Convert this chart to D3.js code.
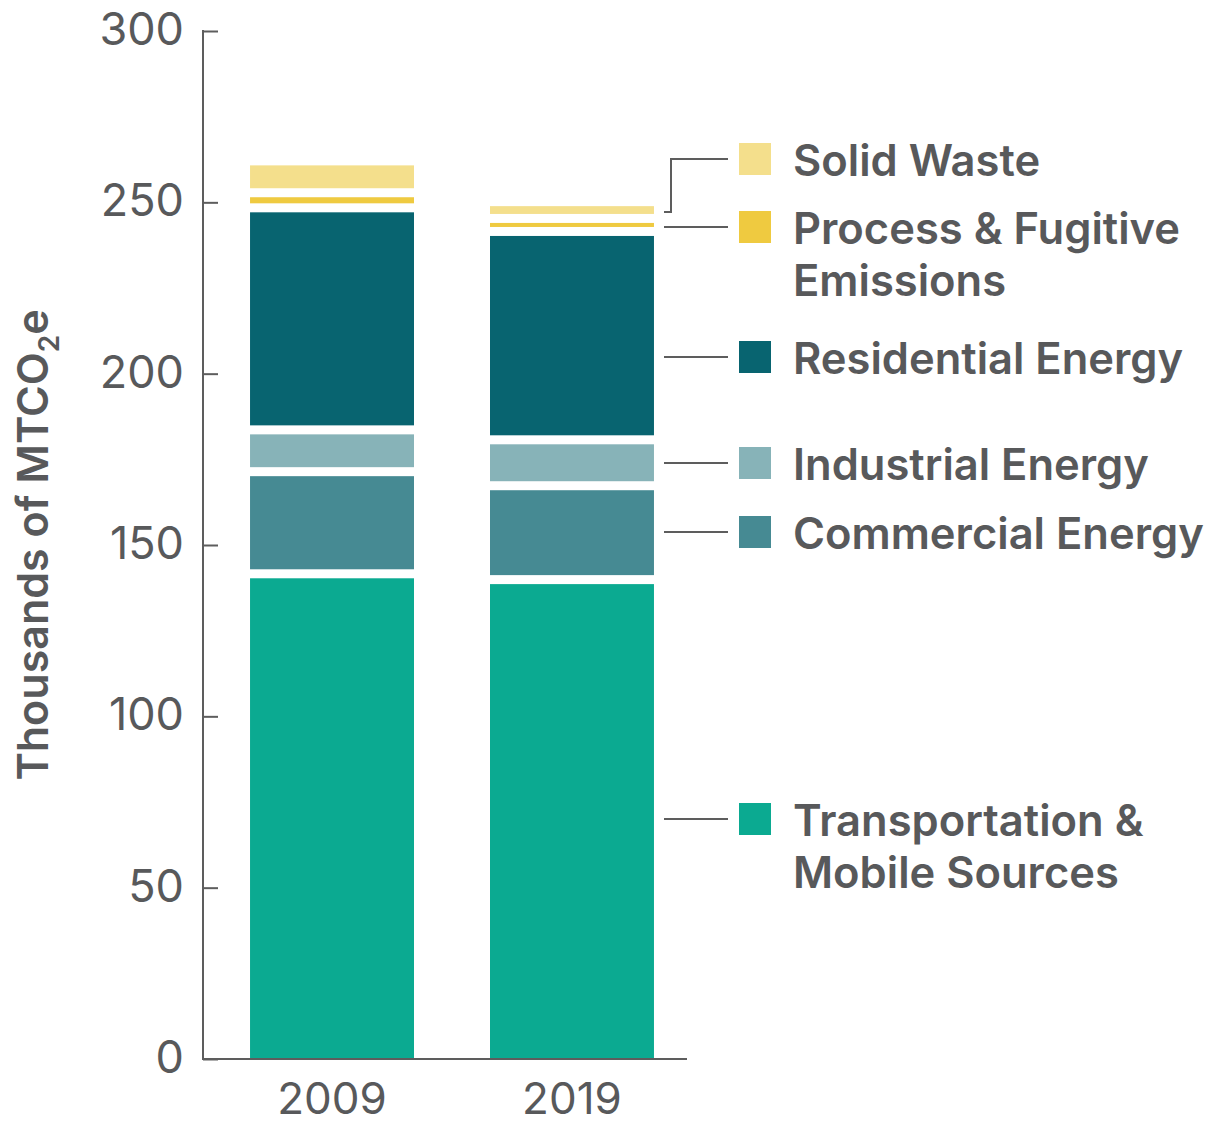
<!DOCTYPE html>
<html>
<head>
<meta charset="utf-8">
<script src="https://cdn.jsdelivr.net/npm/d3@7"></script>
<style>
  body { margin: 0; background: #fff; }
  text { font-family: Inter, "Noto Sans", sans-serif; fill: #58595b; }
</style>
</head>
<body>
<div id="chart"></div>
<script>
var years = ['2009', '2019'];
var categories = ['Transportation & Mobile Sources', 'Commercial Energy', 'Industrial Energy',
  'Residential Energy', 'Process & Fugitive Emissions', 'Solid Waste'];
var values2009 = [141.6, 29.8, 12.2, 64.8, 4.4, 9.3];
var values2019 = [139.9, 27.4, 13.4, 60.8, 3.8, 4.9];
var yTicks = [0, 50, 100, 150, 200, 250, 300];
var legendLines = [
  ['Transportation &', 'Mobile Sources'],
  ['Commercial Energy'],
  ['Industrial Energy'],
  ['Residential Energy'],
  ['Process & Fugitive', 'Emissions'],
  ['Solid Waste']
];
var legendY = [819, 532, 463, 357, 227, 159];

var colors = ['#0baa91', '#468a93', '#87b3b8', '#086470', '#efca40', '#f4df8c'];
var axisColor = '#5d5d5d';

var width = 1216, height = 1125;
var gap = 9;

var svg = d3.select('#chart')
  .append('svg')
  .attr('width', width)
  .attr('height', height);

var y = d3.scaleLinear().domain([0, 300]).range([1059, 31]);
var x = d3.scaleBand().domain(years).range([203, 701])
  .paddingInner(0.3167).paddingOuter(0.196);

// stack the values
var rows = years.map(function(yr, i) {
  var row = { year: yr };
  var vals = i === 0 ? values2009 : values2019;
  categories.forEach(function(c, j) { row[c] = vals[j]; });
  return row;
});
var series = d3.stack().keys(categories)(rows);

svg.append('g')
  .selectAll('g')
  .data(series)
  .enter()
  .append('g')
  .attr('fill', function(d, i) { return colors[i]; })
  .selectAll('rect')
  .data(function(d) { return d.map(function(p) { return { p: p, first: d.index === 0 }; }); })
  .enter()
  .append('rect')
  .attr('x', function(d) { return x(d.p.data.year); })
  .attr('width', x.bandwidth())
  .attr('y', function(d) { return y(d.p[1]) + gap / 2; })
  .attr('height', function(d) {
    var bottom = d.first ? y(d.p[0]) : y(d.p[0]) - gap / 2;
    return bottom - (y(d.p[1]) + gap / 2);
  });

// y axis
var yAxis = svg.append('g')
  .attr('transform', 'translate(203,0)')
  .call(d3.axisRight(y).tickValues(yTicks).tickSize(15).tickFormat(d3.format('d')));
yAxis.select('.domain').remove();
yAxis.selectAll('.tick line').attr('stroke', axisColor).attr('stroke-width', 2);
yAxis.selectAll('.tick text')
  .attr('x', -19)
  .attr('dy', '0.3em')
  .attr('text-anchor', 'end')
  .style('font-size', '45px')
  .style('fill', '#58595b');

svg.append('line')
  .attr('x1', 203).attr('x2', 203)
  .attr('y1', 30).attr('y2', 1060)
  .attr('stroke', axisColor).attr('stroke-width', 2);

// x axis
svg.append('line')
  .attr('x1', 202).attr('x2', 687)
  .attr('y1', 1059).attr('y2', 1059)
  .attr('stroke', axisColor).attr('stroke-width', 2);

svg.append('g')
  .selectAll('text')
  .data(years)
  .enter()
  .append('text')
  .attr('x', function(d) { return x(d) + x.bandwidth() / 2; })
  .attr('y', 1114)
  .attr('text-anchor', 'middle')
  .style('font-size', '44px')
  .text(function(d) { return d; });

// y title
var title = svg.append('text')
  .attr('transform', 'translate(48,' + ((y(0) + y(300)) / 2) + ') rotate(-90)')
  .attr('text-anchor', 'middle')
  .style('font-size', '43px')
  .style('font-weight', 600);
title.append('tspan').text('Thousands of MTCO');
title.append('tspan').attr('dy', 11).style('font-size', '28px').text('2');
title.append('tspan').attr('dy', -11).text('e');

// legend
var legend = svg.append('g')
  .selectAll('.legend')
  .data(categories)
  .enter()
  .append('g')
  .attr('class', 'legend')
  .attr('transform', function(d, i) { return 'translate(739,' + legendY[i] + ')'; });

legend.append('rect')
  .attr('y', -16)
  .attr('width', 32)
  .attr('height', 32)
  .attr('fill', function(d, i) { return colors[i]; });

legend.append('text')
  .attr('x', 54)
  .attr('y', 17)
  .style('font-size', '43.5px')
  .style('font-weight', 600)
  .selectAll('tspan')
  .data(function(d, i) { return legendLines[i]; })
  .enter()
  .append('tspan')
  .attr('x', 54)
  .attr('dy', function(d, i) { return i === 0 ? 0 : 52; })
  .text(function(d) { return d; });

// leader lines
legendY.forEach(function(ly, i) {
  if (i === 5) return;
  svg.append('line')
    .attr('x1', 664).attr('x2', 728)
    .attr('y1', ly).attr('y2', ly)
    .attr('stroke', axisColor).attr('stroke-width', 2);
});
var swMid = y(values2019.reduce(function(a, b) { return a + b; }, 0) - values2019[5] / 2);
svg.append('path')
  .attr('d', 'M664,' + (swMid + 2) + 'H671V' + legendY[5] + 'H728')
  .attr('fill', 'none')
  .attr('stroke', axisColor).attr('stroke-width', 2);
</script>
</body>
</html>
